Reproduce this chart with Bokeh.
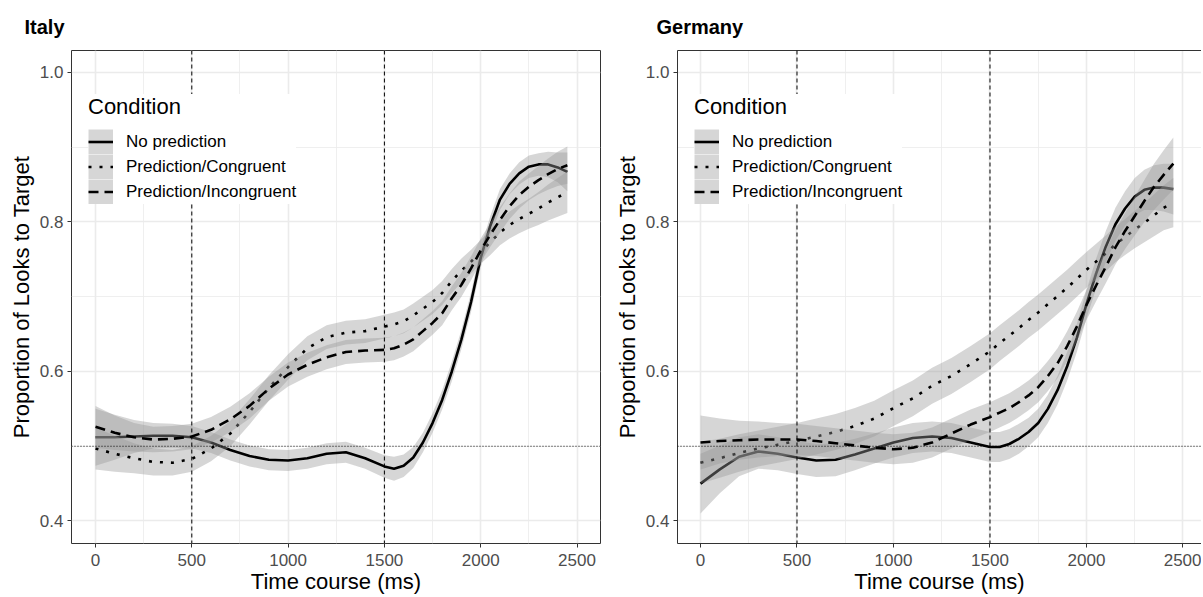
from bokeh.plotting import figure
from bokeh.models import (Range1d, FixedTicker, Span, Legend, LegendItem,
                          PrintfTickFormatter, LinearAxis, ColumnDataSource)
from bokeh.layouts import row
from bokeh.embed import file_html
from bokeh.resources import INLINE

FONT = "Liberation Sans"

# ---------------- data ----------------
time_ms = [0, 100, 200, 300, 400, 500, 600, 700, 800, 900, 1000, 1100, 1200, 1300, 1400, 1500,
           1550, 1600, 1650, 1700, 1750, 1800, 1850, 1900, 1950, 2000, 2050, 2100, 2150, 2200,
           2250, 2300, 2350, 2400, 2450]

conditions = ["No prediction", "Prediction/Congruent", "Prediction/Incongruent"]

italy_no_pred = [0.512, 0.512, 0.513, 0.514, 0.514, 0.512, 0.505, 0.495, 0.487, 0.482, 0.481, 0.484,
                 0.490, 0.492, 0.484, 0.473,
                 0.470, 0.474, 0.485, 0.505, 0.531, 0.562, 0.600, 0.643, 0.693, 0.752, 0.795, 0.830,
                 0.851, 0.865, 0.874, 0.877, 0.877, 0.873, 0.867]
italy_no_pred_se = [0.038, 0.030, 0.022, 0.017, 0.016, 0.015, 0.014, 0.014, 0.014, 0.014, 0.014, 0.014,
                    0.014, 0.014, 0.014, 0.015,
                    0.016, 0.015, 0.014, 0.013, 0.013, 0.013, 0.013, 0.013, 0.013, 0.013, 0.013, 0.014,
                    0.014, 0.015, 0.015, 0.015, 0.017, 0.020, 0.026]
italy_congruent = [0.497, 0.490, 0.484, 0.479, 0.478, 0.483, 0.497, 0.517, 0.546, 0.578, 0.606, 0.631,
                   0.646, 0.652, 0.654, 0.660,
                   0.663, 0.667, 0.675, 0.684, 0.693, 0.705, 0.721, 0.735, 0.747, 0.760, 0.773, 0.786,
                   0.796, 0.804, 0.811, 0.818, 0.826, 0.833, 0.840]
italy_congruent_se = [0.028, 0.024, 0.020, 0.018, 0.017, 0.017, 0.017, 0.017, 0.017, 0.017, 0.017, 0.016,
                      0.016, 0.016, 0.016, 0.016,
                      0.016, 0.016, 0.016, 0.016, 0.016, 0.016, 0.016, 0.016, 0.016, 0.016, 0.017, 0.017,
                      0.018, 0.019, 0.020, 0.022, 0.024, 0.026, 0.028]
italy_incongruent = [0.526, 0.518, 0.512, 0.509, 0.510, 0.513, 0.522, 0.536, 0.554, 0.577, 0.596, 0.609,
                     0.619, 0.626, 0.628, 0.629,
                     0.631, 0.636, 0.643, 0.654, 0.665, 0.678, 0.698, 0.716, 0.738, 0.762, 0.783, 0.803,
                     0.821, 0.836, 0.847, 0.856, 0.864, 0.871, 0.876]
italy_incongruent_se = [0.028, 0.023, 0.019, 0.017, 0.017, 0.017, 0.017, 0.017, 0.017, 0.016, 0.016, 0.016,
                        0.016, 0.016, 0.016, 0.016,
                        0.016, 0.016, 0.016, 0.016, 0.016, 0.016, 0.016, 0.016, 0.016, 0.016, 0.016, 0.017,
                        0.017, 0.018, 0.018, 0.019, 0.021, 0.023, 0.025]

germany_no_pred = [0.450, 0.469, 0.486, 0.493, 0.490, 0.485, 0.481, 0.482, 0.489, 0.497, 0.505, 0.511,
                   0.513, 0.511, 0.505, 0.499,
                   0.499, 0.503, 0.510, 0.519, 0.531, 0.550, 0.575, 0.607, 0.645, 0.690, 0.731, 0.767,
                   0.797, 0.818, 0.834, 0.843, 0.846, 0.846, 0.844]
germany_no_pred_se = [0.040, 0.032, 0.026, 0.023, 0.022, 0.022, 0.022, 0.022, 0.021, 0.020, 0.020, 0.020,
                      0.020, 0.020, 0.020, 0.020,
                      0.020, 0.020, 0.020, 0.019, 0.019, 0.019, 0.019, 0.019, 0.019, 0.019, 0.020, 0.021,
                      0.022, 0.023, 0.025, 0.027, 0.030, 0.032, 0.034]
germany_congruent = [0.478, 0.484, 0.491, 0.497, 0.502, 0.507, 0.513, 0.519, 0.527, 0.537, 0.551, 0.564,
                     0.581, 0.594, 0.610, 0.627,
                     0.638, 0.648, 0.658, 0.669, 0.679, 0.690, 0.701, 0.712, 0.724, 0.736, 0.747, 0.758,
                     0.770, 0.780, 0.790, 0.799, 0.809, 0.819, 0.826]
germany_congruent_se = [0.028, 0.026, 0.025, 0.024, 0.024, 0.024, 0.024, 0.024, 0.024, 0.024, 0.024, 0.024,
                        0.024, 0.024, 0.024, 0.024,
                        0.024, 0.024, 0.024, 0.024, 0.024, 0.024, 0.024, 0.024, 0.024, 0.024, 0.024, 0.024,
                        0.024, 0.024, 0.025, 0.026, 0.028, 0.030, 0.033]
germany_incongruent = [0.505, 0.507, 0.508, 0.509, 0.509, 0.509, 0.507, 0.504, 0.501, 0.498, 0.496, 0.498,
                       0.505, 0.517, 0.529, 0.539,
                       0.545, 0.551, 0.559, 0.568, 0.579, 0.594, 0.611, 0.634, 0.660, 0.689, 0.715, 0.740,
                       0.766, 0.788, 0.808, 0.828, 0.847, 0.863, 0.878]
germany_incongruent_se = [0.036, 0.030, 0.026, 0.024, 0.022, 0.021, 0.020, 0.020, 0.020, 0.020, 0.020, 0.020,
                          0.020, 0.020, 0.020, 0.020,
                          0.020, 0.020, 0.020, 0.020, 0.020, 0.020, 0.020, 0.020, 0.020, 0.020, 0.021, 0.022,
                          0.023, 0.024, 0.026, 0.028, 0.031, 0.033, 0.035]

x_major = [0, 500, 1000, 1500, 2000, 2500]
x_minor = [250, 750, 1250, 1750, 2250]
y_major = [0.4, 0.6, 0.8, 1.0]
y_minor = [0.5, 0.7, 0.9]
time_markers = [500, 1500]
chance_level = 0.5

line_dashes = ["solid", "3 8", "10 6"]

FIG_H = 597


def make_panel(title, means, ses, x_start, x_end, width, border_right,
               title_offset, full_outline):
    p = figure(width=width, height=FIG_H,
               x_range=Range1d(x_start, x_end), y_range=Range1d(0.3699, 1.0294),
               output_backend="svg", toolbar_location=None,
               min_border_left=71, min_border_right=border_right,
               min_border_top=50, min_border_bottom=54,
               x_axis_label="Time course (ms)",
               y_axis_label="Proportion of Looks to Target",
               title=title)
    p.background_fill_color = "white"
    p.border_fill_color = "white"
    p.title.text_font = FONT
    p.title.text_font_size = "20px"
    p.title.text_font_style = "bold"
    p.title.text_color = "black"
    p.title.align = "left"
    p.title.offset = title_offset
    p.title.standoff = 26

    xt = FixedTicker(ticks=x_major, minor_ticks=x_minor)
    yt = FixedTicker(ticks=y_major, minor_ticks=y_minor)
    p.xaxis.ticker = xt
    p.yaxis.ticker = yt
    p.xgrid.ticker = xt
    p.ygrid.ticker = yt
    p.grid.grid_line_color = "#EBEBEB"
    p.grid.grid_line_width = 1.6
    p.grid.minor_grid_line_color = "#EBEBEB"
    p.grid.minor_grid_line_width = 0.8

    for ax in (p.xaxis[0], p.yaxis[0]):
        ax.axis_label_text_font = FONT
        ax.axis_label_text_font_size = "22px"
        ax.axis_label_text_font_style = "normal"
        ax.axis_label_text_color = "black"
        ax.major_label_text_font = FONT
        ax.major_label_text_font_size = "17px"
        ax.major_label_text_color = "#4D4D4D"
        ax.major_tick_line_color = "#333333"
        ax.major_tick_out = 4
        ax.major_tick_in = 0
        ax.minor_tick_line_color = None
        ax.axis_line_color = None if full_outline else "#333333"
    p.xaxis.major_label_standoff = 6
    p.xaxis.axis_label_standoff = 0
    p.yaxis.major_label_standoff = 4
    p.yaxis.axis_label_standoff = 3
    p.yaxis.formatter = PrintfTickFormatter(format="%.1f")

    if full_outline:
        p.outline_line_color = "#333333"
        p.outline_line_width = 1
    else:
        p.outline_line_color = None
        top = LinearAxis(ticker=FixedTicker(ticks=[]), axis_line_color="#333333",
                         major_tick_line_color=None, minor_tick_line_color=None,
                         major_label_text_font_size="0px")
        p.add_layout(top, "above")

    # ribbons + lines, drawn group by group like geom_smooth
    for m, s, dash in zip(means, ses, line_dashes):
        src = ColumnDataSource(dict(t=time_ms, y=m,
                                    lo=[a - b for a, b in zip(m, s)],
                                    hi=[a + b for a, b in zip(m, s)]))
        p.varea(x="t", y1="lo", y2="hi", source=src, fill_color="#999999", fill_alpha=0.4)
        p.line(x="t", y="y", source=src, line_color="black", line_width=2.6, line_dash=dash)

    for tm in time_markers:
        p.add_layout(Span(location=tm, dimension="height", line_color="black",
                          line_width=1, line_dash="4 3"))
    p.add_layout(Span(location=chance_level, dimension="width", line_color="black",
                      line_width=1, line_dash="1 2"))

    # legend keys: grey key background + line type (legend-only renderers, off-range)
    items = []
    for name, dash in zip(conditions, line_dashes):
        rb = p.line(x=[-10000, -9999], y=[0.5, 0.5], line_color="#D6D6D6", line_width=25)
        rl = p.line(x=[-10000, -9999], y=[0.5, 0.5], line_color="black", line_width=2.6,
                    line_dash=dash)
        items.append(LegendItem(label=name, renderers=[rb, rl]))
    legend = Legend(items=items, title="Condition", location=(17, 339),
                    glyph_width=25, glyph_height=25, spacing=0, label_standoff=13,
                    label_height=25,
                    padding=10, margin=0, border_line_color=None,
                    background_fill_color="white", background_fill_alpha=1.0,
                    label_text_font=FONT, label_text_font_size="17px", label_text_color="black",
                    title_text_font=FONT, title_text_font_size="22px",
                    title_text_font_style="normal", title_text_color="black",
                    title_standoff=9)
    p.add_layout(legend)
    return p


p1 = make_panel("Italy",
                [italy_no_pred, italy_congruent, italy_incongruent],
                [italy_no_pred_se, italy_congruent_se, italy_incongruent_se],
                -124.6, 2622.0, 606, 6, -47, True)
p2 = make_panel("Germany",
                [germany_no_pred, germany_congruent, germany_incongruent],
                [germany_no_pred_se, germany_congruent_se, germany_incongruent_se],
                -119.2, 2596.0, 595, 0, -21, False)

layout = row(p1, p2)
open("out.html", "w").write(file_html(layout, INLINE))
